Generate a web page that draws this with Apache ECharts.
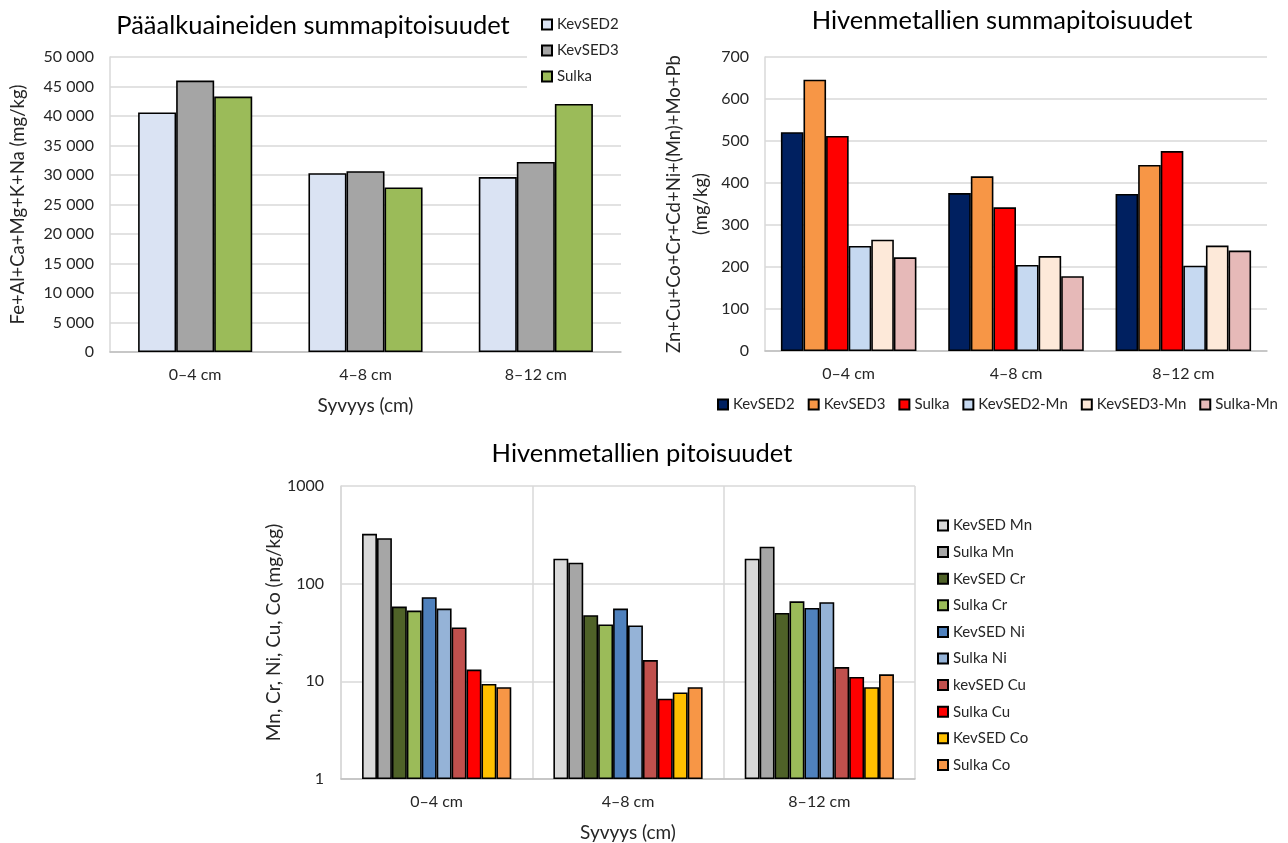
<!DOCTYPE html>
<html>
<head>
<meta charset="utf-8">
<script src="https://cdn.jsdelivr.net/npm/echarts@6/dist/echarts.min.js"></script>
<style>
  body { margin: 0; background: #fff; }
  #chart { width: 1288px; height: 843px; }
</style>
</head>
<body>
<div id="chart"></div>
<script>
// syvyysvälit
var depths = ['0–4 cm', '4–8 cm', '8–12 cm'];

// pääalkuaineiden summapitoisuudet (mg/kg)
var mainKevSED2 = [40600, 30300, 29650];
var mainKevSED3 = [46000, 30650, 32200];
var mainSulka   = [43300, 27900, 42050];

// hivenmetallien summapitoisuudet (mg/kg)
var sumKevSED2   = [521, 376, 374];
var sumKevSED3   = [646, 416, 443];
var sumSulka     = [512, 342, 476];
var sumKevSED2Mn = [250, 205, 203];
var sumKevSED3Mn = [265, 226, 251];
var sumSulkaMn   = [223, 178, 239];

// hivenmetallien pitoisuudet (mg/kg), log-asteikko
var kevMn = [324, 180, 180];
var sulMn = [292, 164, 239];
var kevCr = [58.3, 47.5, 50.2];
var sulCr = [53, 38.2, 66];
var kevNi = [72.6, 55.6, 56.5];
var sulNi = [55.6, 37.3, 64.5];
var kevCu = [35.6, 16.5, 14.0];
var sulCu = [13.2, 6.65, 11.1];
var kevCo = [9.4, 7.7, 8.7];
var sulCo = [8.7, 8.7, 11.8];

var FONT = 'Lato';
var TXT = '#262626';
var GRID_C = '#d9d9d9';

function spaced(v) {
  return String(v).replace(/\B(?=(\d{3})+(?!\d))/g, ' ');
}

function bar(name, data, color, xi, gap) {
  return {
    name: name,
    type: 'bar',
    xAxisIndex: xi,
    yAxisIndex: xi,
    data: data,
    barGap: '0%',
    barCategoryGap: gap,
    itemStyle: { color: color, borderColor: '#000', borderWidth: 1.6 },
    emphasis: { disabled: true }
  };
}

function catAxis(gi, name, splitShow) {
  return {
    type: 'category',
    gridIndex: gi,
    data: depths,
    name: name,
    nameLocation: 'middle',
    nameGap: 44,
    nameTextStyle: { fontFamily: FONT, fontSize: 19, color: TXT },
    axisLine: { lineStyle: { color: '#bfbfbf', width: 1.5 } },
    axisTick: { show: false },
    axisLabel: { fontFamily: FONT, fontSize: 16, color: TXT, margin: 15 },
    splitLine: { show: splitShow, lineStyle: { color: GRID_C, width: 1.5 } }
  };
}

var titleStyle = { fontFamily: FONT, fontSize: 25.5, fontWeight: 'normal', color: '#000' };
var legendText = { fontFamily: FONT, fontSize: 15, color: TXT };

var chart = echarts.init(document.getElementById('chart'));

var option = {
  animation: false,
  backgroundColor: '#fff',
  title: [
    { text: 'Pääalkuaineiden summapitoisuudet', left: 313, top: 13, textAlign: 'center', padding: 0, textStyle: titleStyle },
    { text: 'Hivenmetallien summapitoisuudet', left: 1002, top: 8, textAlign: 'center', padding: 0, textStyle: titleStyle },
    { text: 'Hivenmetallien pitoisuudet', left: 642, top: 441, textAlign: 'center', padding: 0, textStyle: titleStyle }
  ],
  legend: [
    {
      data: ['KevSED2', 'KevSED3', 'Sulka'],
      orient: 'vertical', left: 527, top: 9,
      padding: [8, 12, 4, 14],
      backgroundColor: '#fff',
      icon: 'rect', itemWidth: 10, itemHeight: 10, itemGap: 11,
      textStyle: legendText
    },
    {
      data: ['h:KevSED2', 'h:KevSED3', 'h:Sulka', 'h:KevSED2-Mn', 'h:KevSED3-Mn', 'h:Sulka-Mn'],
      orient: 'horizontal', left: 717, top: 397, padding: 0,
      icon: 'rect', itemWidth: 10, itemHeight: 10, itemGap: 13,
      formatter: function (n) { return n.slice(2); },
      textStyle: legendText
    },
    {
      data: ['KevSED Mn', 'Sulka Mn', 'KevSED Cr', 'Sulka Cr', 'KevSED Ni', 'Sulka Ni',
             'kevSED Cu', 'Sulka Cu', 'KevSED Co', 'Sulka Co'],
      orient: 'vertical', left: 937, top: 518, padding: 0,
      icon: 'rect', itemWidth: 10, itemHeight: 10, itemGap: 11.6,
      textStyle: legendText
    }
  ],
  grid: [
    { left: 110, top: 57, width: 511, height: 295 },
    { left: 765, top: 57, width: 502, height: 294 },
    { left: 341, top: 486, width: 574, height: 294 }
  ],
  xAxis: [
    catAxis(0, 'Syvyys (cm)', false),
    catAxis(1, '', false),
    catAxis(2, 'Syvyys (cm)', true)
  ],
  yAxis: [
    {
      type: 'value', gridIndex: 0, min: 0, max: 50000, interval: 5000,
      name: 'Fe+Al+Ca+Mg+K+Na (mg/kg)', nameLocation: 'middle', nameGap: 82,
      nameTextStyle: { fontFamily: FONT, fontSize: 18.5, color: TXT },
      axisLine: { show: true, lineStyle: { color: GRID_C, width: 1.5 } },
      axisLabel: { fontFamily: FONT, fontSize: 16, color: TXT, margin: 16, formatter: spaced },
      splitLine: { lineStyle: { color: GRID_C, width: 1.5 } }
    },
    {
      type: 'value', gridIndex: 1, min: 0, max: 700, interval: 100,
      name: 'Zn+Cu+Co+Cr+Cd+Ni+(Mn)+Mo+Pb\n(mg/kg)', nameLocation: 'middle', nameGap: 50,
      nameTextStyle: { fontFamily: FONT, fontSize: 18.5, color: TXT, lineHeight: 27 },
      axisLine: { show: true, lineStyle: { color: GRID_C, width: 1.5 } },
      axisLabel: { fontFamily: FONT, fontSize: 16, color: TXT, margin: 16 },
      splitLine: { lineStyle: { color: GRID_C, width: 1.5 } }
    },
    {
      type: 'log', logBase: 10, gridIndex: 2, min: 1, max: 1000,
      name: 'Mn, Cr, Ni, Cu, Co (mg/kg)', nameLocation: 'middle', nameGap: 58,
      nameTextStyle: { fontFamily: FONT, fontSize: 19, color: TXT },
      axisLine: { show: true, lineStyle: { color: GRID_C, width: 1.5 } },
      axisLabel: { fontFamily: FONT, fontSize: 16, color: TXT, margin: 17,
        formatter: function (v) { return String(Math.round(v)); } },
      splitLine: { lineStyle: { color: GRID_C, width: 1.5 } }
    }
  ],
  series: [
    bar('KevSED2', mainKevSED2, '#dae3f3', 0, '33%'),
    bar('KevSED3', mainKevSED3, '#a5a5a5', 0, '33%'),
    bar('Sulka', mainSulka, '#9bbb59', 0, '33%'),

    bar('h:KevSED2', sumKevSED2, '#002060', 1, '19%'),
    bar('h:KevSED3', sumKevSED3, '#f79646', 1, '19%'),
    bar('h:Sulka', sumSulka, '#ff0000', 1, '19%'),
    bar('h:KevSED2-Mn', sumKevSED2Mn, '#c6d9f1', 1, '19%'),
    bar('h:KevSED3-Mn', sumKevSED3Mn, '#fde9d9', 1, '19%'),
    bar('h:Sulka-Mn', sumSulkaMn, '#e6b9b8', 1, '19%'),

    bar('KevSED Mn', kevMn, '#d9d9d9', 2, '22%'),
    bar('Sulka Mn', sulMn, '#a6a6a6', 2, '22%'),
    bar('KevSED Cr', kevCr, '#4f6228', 2, '22%'),
    bar('Sulka Cr', sulCr, '#9bbb59', 2, '22%'),
    bar('KevSED Ni', kevNi, '#4f81bd', 2, '22%'),
    bar('Sulka Ni', sulNi, '#95b3d7', 2, '22%'),
    bar('kevSED Cu', kevCu, '#c0504d', 2, '22%'),
    bar('Sulka Cu', sulCu, '#ff0000', 2, '22%'),
    bar('KevSED Co', kevCo, '#ffc000', 2, '22%'),
    bar('Sulka Co', sulCo, '#f79646', 2, '22%')
  ]
};

chart.setOption(option);
</script>
</body>
</html>
